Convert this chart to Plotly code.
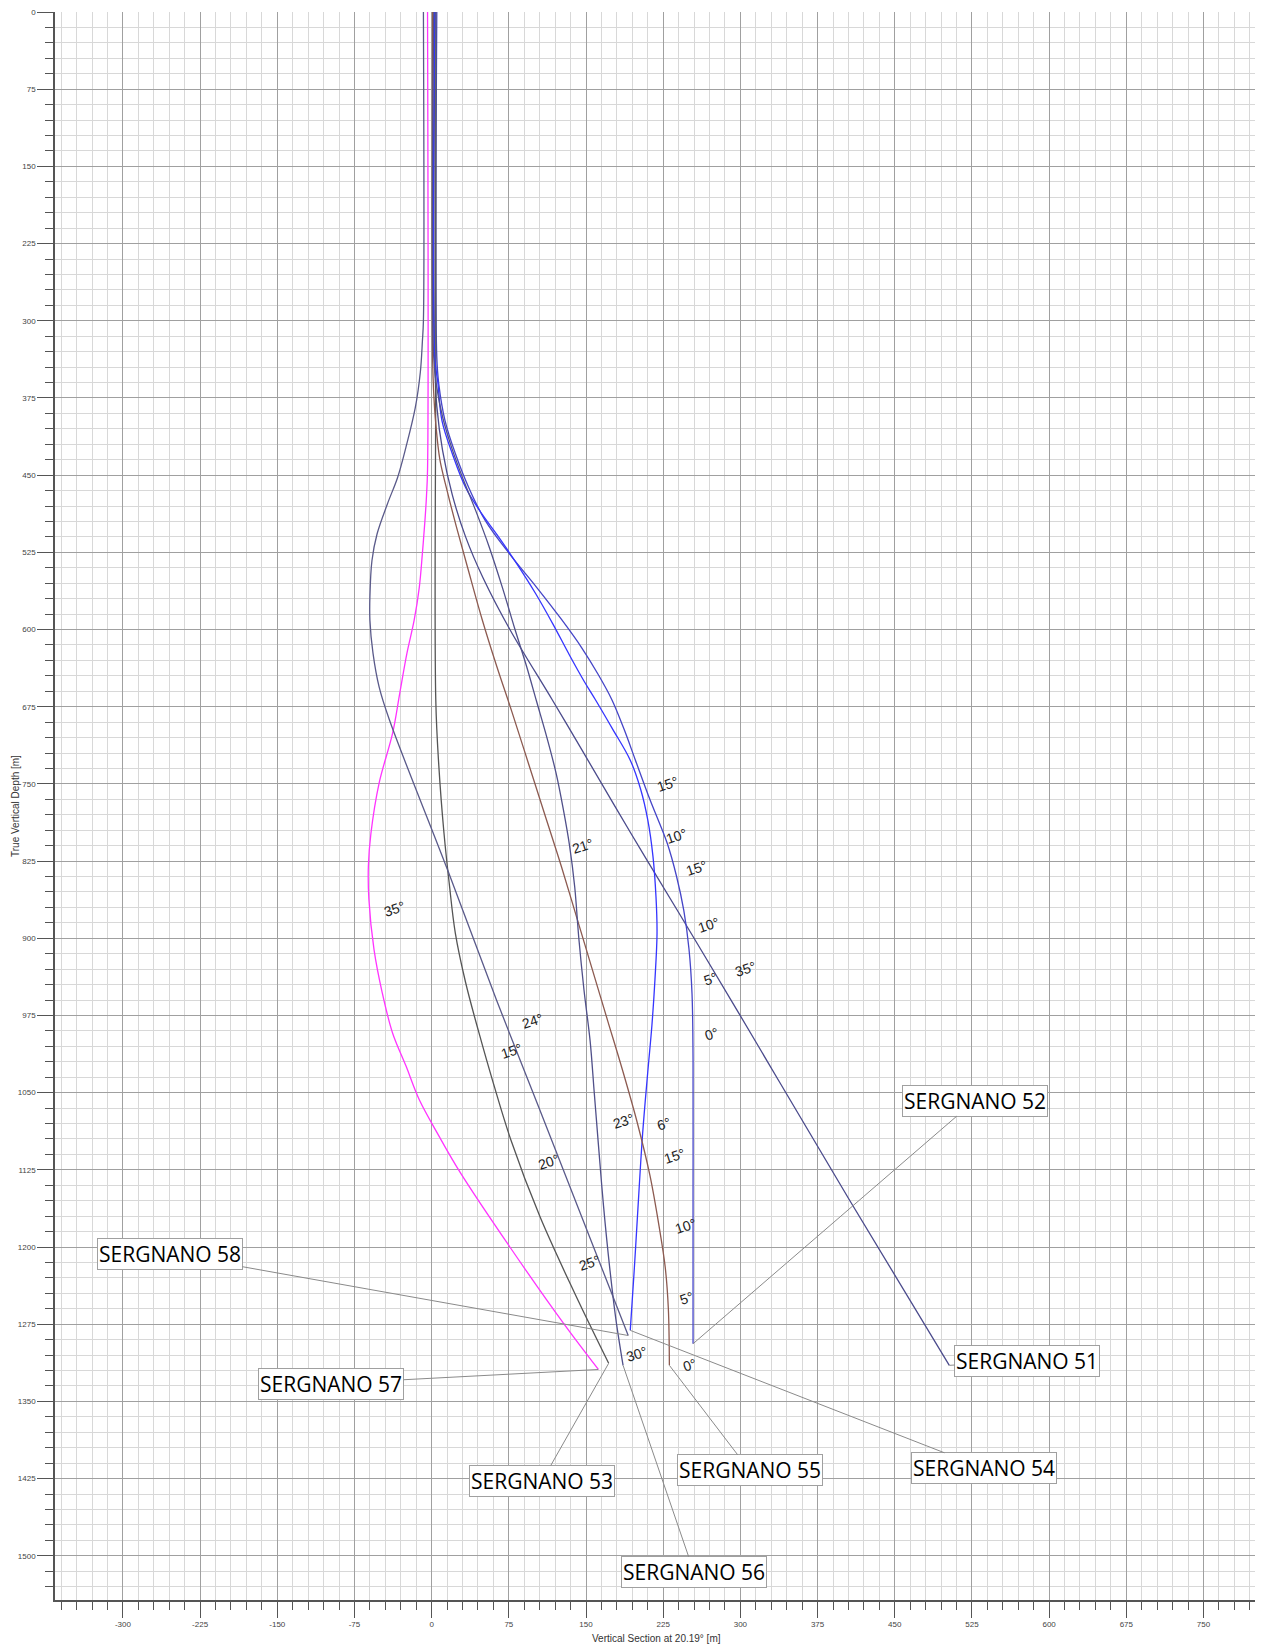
import plotly.graph_objects as go

# ---------------- data ----------------
WELLS = ["SERGNANO 51", "SERGNANO 52", "SERGNANO 53", "SERGNANO 54",
         "SERGNANO 55", "SERGNANO 56", "SERGNANO 57", "SERGNANO 58"]

vs_51 = [3, 3, 5, 10.6, 20, 33, 50, 76, 117, 146, 193, 240, 298, 337, 407, 503]
tvd_51 = [0, 340, 383, 426, 469, 510, 550, 600, 668, 717, 797, 875, 972, 1038, 1156, 1315]

vs_52 = [5, 5, 7, 13, 23, 36, 52, 76, 102, 126, 146, 162, 175, 187, 198, 212, 229, 238, 245, 250, 253, 254, 254, 254]
tvd_52 = [0, 335, 362, 397, 429, 462, 494, 527, 559, 590, 618, 644, 668, 697, 727, 765, 808, 840, 873, 910, 954, 1018, 1150, 1294]

vs_53 = [4, 4, 4, 7, 12, 17, 23, 33, 46, 60, 77, 105, 139, 172]
tvd_53 = [0, 330, 668, 733, 798, 846, 895, 943, 992, 1041, 1096, 1170, 1245, 1313]

vs_54 = [3, 3, 6, 10, 20, 33, 49, 65, 82, 101, 118, 134, 148, 159, 176, 193, 203, 210, 215, 218, 219, 217, 214, 210, 205, 200, 197, 193]
tvd_54 = [0, 335, 360, 397, 429, 462, 488, 510, 535, 565, 595, 625, 650, 668, 697, 727, 755, 785, 820, 860, 895, 940, 985, 1030, 1090, 1170, 1220, 1281]

vs_55 = [1, 1, 2, 4, 8, 15, 24, 35, 49, 63, 78, 94, 110, 126, 141, 156, 171, 186, 200, 212, 221, 227, 230, 231]
tvd_55 = [0, 340, 370, 400, 435, 465, 500, 540, 590, 635, 680, 730, 780, 830, 880, 930, 980, 1030, 1080, 1130, 1180, 1220, 1260, 1315]

vs_56 = [2, 2, 5, 11, 20, 31, 43, 56, 69, 81, 92, 102, 112, 121, 128, 134, 139, 143, 148, 154, 158, 162, 167, 173, 179, 186]
tvd_56 = [0, 335, 365, 395, 425, 455, 485, 520, 560, 600, 635, 670, 705, 740, 775, 810, 850, 900, 950, 1000, 1050, 1100, 1160, 1220, 1270, 1315]

vs_57 = [-4, -4, -5, -6.5, -9, -12, -17, -24, -31, -38, -51, -59, -61.5, -61, -56, -48, -38, -25, -12, 7, 28, 76, 128, 162]
tvd_57 = [0, 445, 470, 494, 526, 559, 591, 623, 662, 701, 749, 798, 830, 862, 911, 953, 992, 1024, 1057, 1092, 1128, 1200, 1274, 1319]

vs_58 = [-8, -8, -9, -11, -16, -25, -33, -43, -53, -58, -60, -60, -57, -51, -41, 16, 63, 104, 191]
tvd_58 = [0, 300, 320, 350, 385, 423, 452, 478, 507, 533, 568, 591, 623, 656, 688, 835, 960, 1064, 1286]

VS = [vs_51, vs_52, vs_53, vs_54, vs_55, vs_56, vs_57, vs_58]
TVD = [tvd_51, tvd_52, tvd_53, tvd_54, tvd_55, tvd_56, tvd_57, tvd_58]

# inclination labels
incl_text = ["15°", "10°", "15°", "10°", "35°", "5°", "0°", "21°", "35°", "24°", "15°",
             "23°", "6°", "15°", "20°", "10°", "25°", "5°", "30°", "0°"]

X_TICKS = [-300, -225, -150, -75, 0, 75, 150, 225, 300, 375, 450, 525, 600, 675, 750]
Y_TICKS = [0, 75, 150, 225, 300, 375, 450, 525, 600, 675, 750, 825, 900, 975, 1050,
           1125, 1200, 1275, 1350, 1425, 1500]

# ---------------- styling / layout ----------------
COLORS = ["#4b4b8c", "#4545c8", "#555555", "#3535ff",
          "#8c5a50", "#50508a", "#ff33ff", "#5a5a8a"]

incl_x = [229.5, 238, 257.7, 269, 305, 270.6, 272, 147, -36.5, 98, 77.6,
          186.5, 225.4, 236, 113.4, 247, 153, 248, 199.4, 250.7]
incl_y = [750, 801, 832, 887, 930, 940, 993.5, 810, 872, 980.5, 1009.6,
          1078, 1080, 1111.7, 1117, 1179.5, 1216, 1250, 1303.8, 1314.5]

# label box centres (data coordinates)
label_cx = [578.7, 527.8, 107.2, 536.9, 308.9, 254.9, -97.7, -254.3]
label_cy = [1310.3, 1057.7, 1427.4, 1415.0, 1417.0, 1516.0, 1332.7, 1206.6]

fig = go.Figure()
for name, xs, ys, col in zip(WELLS, VS, TVD, COLORS):
    fig.add_trace(go.Scatter(x=xs, y=ys, mode="lines", name=name,
                             line=dict(color=col, width=1.3, shape="spline", smoothing=1.0),
                             hoverinfo="name"))

annotations = []
for t, x, y in zip(incl_text, incl_x, incl_y):
    annotations.append(dict(x=x, y=y, xref="x", yref="y", text=t, showarrow=False,
                            textangle=-18,
                            font=dict(family="Liberation Sans, Arial", size=14, color="#222222")))

for name, xs, ys, cx, cy in zip(WELLS, VS, TVD, label_cx, label_cy):
    annotations.append(dict(x=xs[-1], y=ys[-1], xref="x", yref="y",
                            ax=cx, ay=cy, axref="x", ayref="y",
                            text=name, showarrow=True, arrowhead=0, arrowwidth=1,
                            arrowcolor="#8a8a8a",
                            bgcolor="white", bordercolor="#a0a0a0", borderwidth=1, borderpad=1,
                            font=dict(family="Open Sans", size=21, color="black")))

# axis titles placed as annotations for exact positioning
annotations.append(dict(text="Vertical Section at 20.19° [m]", xref="paper", yref="paper",
                        x=0.5, y=0, yshift=-38, xanchor="center", yanchor="middle",
                        showarrow=False,
                        font=dict(family="Liberation Sans, Arial", size=10, color="#333333")))
annotations.append(dict(text="True Vertical Depth [m]", xref="paper", yref="paper",
                        x=0, y=0.5, xshift=-40, xanchor="center", yanchor="middle",
                        textangle=-90, showarrow=False,
                        font=dict(family="Liberation Sans, Arial", size=10, color="#333333")))

axis_common = dict(
    showgrid=True, gridcolor="#a0a0a0", gridwidth=1,
    ticks="outside", ticklen=16, tickwidth=1, tickcolor="#555555",
    showline=True, linecolor="#555555", linewidth=1.5,
    zeroline=False, automargin=False, ticklabeloverflow="allow",
    tickfont=dict(family="Liberation Sans, Arial", size=8, color="#444444"),
    minor=dict(dtick=15, ticks="outside", ticklen=8, tickwidth=1, tickcolor="#555555",
               showgrid=True, gridcolor="#d8d8d8", gridwidth=1),
)

fig.update_layout(
    width=1255, height=1636,
    margin=dict(l=47, r=6, t=4, b=44, autoexpand=False),
    paper_bgcolor="white", plot_bgcolor="white",
    showlegend=False,
    annotations=annotations,
    xaxis=dict(range=[-366, 802], tickmode="array", tickvals=X_TICKS,
               ticktext=[str(v) for v in X_TICKS], **axis_common),
    yaxis=dict(range=[1543, 0], tickmode="array", tickvals=Y_TICKS,
               ticktext=[str(v) for v in Y_TICKS], **axis_common),
)

fig.write_html("out.html")
